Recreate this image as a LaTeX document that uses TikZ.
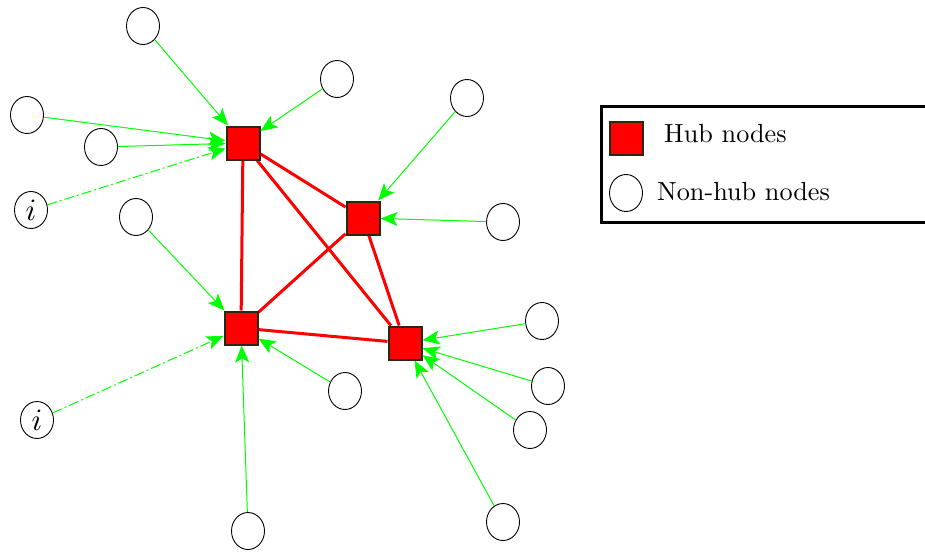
\documentclass[tikz,border=0pt]{standalone}
\usetikzlibrary{shapes.geometric,arrows.meta}
\definecolor{hubred}{RGB}{255,0,0}
\definecolor{hubborder}{RGB}{40,40,20}
\definecolor{lgreen}{RGB}{0,255,0}
\newcommand{\bigtxt}[1]{\scalebox{2.62}{\fontsize{10}{12}\selectfont #1}}
\newcommand{\bigi}{\scalebox{3.1}{\fontsize{10}{12}\selectfont $i$}}
\begin{document}
\begin{tikzpicture}[x=1pt,y=-1pt,
  hub/.style={rectangle,fill=hubred,draw=hubborder,line width=2pt,minimum width=33pt,minimum height=33pt,inner sep=0pt},
  nonhub/.style={ellipse,draw=black,line width=0.9pt,minimum width=33pt,minimum height=37pt,inner sep=0pt},
  link/.style={draw=lgreen,line width=1pt,-{Stealth[length=17pt,width=14pt,inset=4pt]}},
  dlink/.style={link,dash pattern=on 10pt off 3pt on 2pt off 3pt},
  core/.style={draw=hubred,line width=3pt},
  legtext/.style={anchor=west,inner sep=0pt}]
\useasboundingbox (0,0) rectangle (925,551);
% hubs
\node[hub] (h1) at (243,143) {};
\node[hub] (h2) at (363,218) {};
\node[hub] (h3) at (241,328) {};
\node[hub] (h4) at (405,343) {};
% non-hubs
\node[nonhub] (c1) at (143,26) {};
\node[nonhub] (c2) at (337,79) {};
\node[nonhub] (c3) at (27,115) {};
\node[nonhub] (c4) at (101,147) {};
\node[nonhub] (c5) at (31,210) {\bigi};
\node[nonhub] (c6) at (467,98) {};
\node[nonhub] (c7) at (136,217) {};
\node[nonhub] (c8) at (503,222) {};
\node[nonhub] (c9) at (542,321) {};
\node[nonhub] (c10) at (548,386) {};
\node[nonhub] (c11) at (530,430) {};
\node[nonhub] (c12) at (345,391) {};
\node[nonhub] (c13) at (37,420) {\bigi};
\node[nonhub] (c14) at (248,531) {};
\node[nonhub] (c15) at (503,522) {};
% core links
\draw[core] (h1) -- (h3);
\draw[core] (h1) -- (h2);
\draw[core] (h1) -- (h4);
\draw[core] (h2) -- (h3);
\draw[core] (h2) -- (h4);
\draw[core] (h3) -- (h4);
\node[hub] at (h1) {};
\node[hub] at (h2) {};
\node[hub] at (h3) {};
\node[hub] at (h4) {};
% green links
\draw[link] (c1) -- (h1);
\draw[link] (c2) -- (h1);
\draw[link] (c3) -- (h1);
\draw[link] (c4) -- (h1);
\draw[dlink] (c5) -- (h1);
\draw[link] (c6) -- (h2);
\draw[link] (c8) -- (h2);
\draw[link] (c7) -- (h3);
\draw[dlink] (c13) -- (h3);
\draw[link] (c12) -- (h3);
\draw[link] (c14) -- (h3);
\draw[link] (c9) -- (h4);
\draw[link] (c10) -- (h4);
\draw[link] (c11) -- (h4);
\draw[link] (c15) -- (h4);
% legend
\draw[line width=3pt] (940,106) -- (601,106) -- (601,222) -- (940,222);
\node[hub] (lh) at (626,138) {};
\node[nonhub] (ln) at (626,193) {};
\node[legtext] (lht) at (664,134) {\bigtxt{Hub nodes}};
\node[legtext] (lnt) at (657,192) {\bigtxt{Non-hub nodes}};
\end{tikzpicture}
\end{document}
